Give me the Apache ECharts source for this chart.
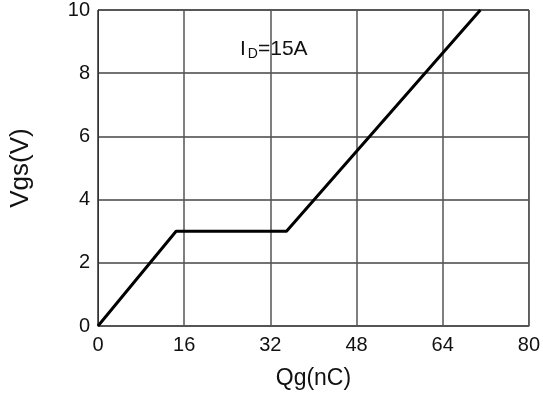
<!DOCTYPE html>
<html>
<head>
<meta charset="utf-8">
<script src="https://cdn.jsdelivr.net/npm/echarts@6/dist/echarts.min.js"></script>
<style>html,body{margin:0;padding:0;background:#fff;}#c{width:543px;height:397px;}</style>
</head>
<body>
<div id="c"></div>
<script>
const qg = [0, 14.5, 35, 71];
const vgs = [0, 3, 3, 10];
const xTicks = [0, 16, 32, 48, 64, 80];
const yTicks = [0, 2, 4, 6, 8, 10];

const chart = echarts.init(document.getElementById('c'));
const font = 'Arial, "Liberation Sans", Helvetica, sans-serif';
chart.setOption({
  animation: false,
  backgroundColor: '#fff',
  grid: { left: 98, top: 9, width: 433, height: 317, show: true, borderColor: '#222', borderWidth: 1 },
  title: {
    text: 'I{sub|D}=15A',
    left: 235, top: 32,
    textStyle: {
      fontFamily: font, fontSize: 21, fontWeight: 'normal', color: '#111', lineHeight: 24,
      rich: { sub: { fontFamily: font, fontSize: 14, lineHeight: 17, verticalAlign: 'bottom', color: '#111', padding: [0, 0, 0, 2] } }
    }
  },
  xAxis: {
    type: 'value', min: xTicks[0], max: xTicks[xTicks.length - 1], interval: 16,
    name: 'Qg(nC)', nameLocation: 'middle', nameGap: 41,
    nameTextStyle: { fontFamily: font, fontSize: 23, color: '#111' },
    axisLine: { show: true, lineStyle: { color: '#555', width: 1.5 } },
    axisTick: { show: false },
    axisLabel: { fontFamily: font, fontSize: 20, color: '#111', margin: 9 },
    splitLine: { show: true, lineStyle: { color: '#555', width: 1.5 } }
  },
  yAxis: {
    type: 'value', min: yTicks[0], max: yTicks[yTicks.length - 1], interval: 2,
    name: 'Vgs(V)', nameLocation: 'middle', nameGap: 64,
    nameTextStyle: { fontFamily: font, fontSize: 26, color: '#111' },
    axisLine: { show: true, lineStyle: { color: '#333', width: 1 } },
    axisTick: { show: false },
    axisLabel: { fontFamily: font, fontSize: 20, color: '#111', margin: 8 },
    splitLine: { show: true, lineStyle: { color: '#444', width: 1.5 } }
  },
  series: [{
    type: 'line',
    data: qg.map((x, i) => [x, vgs[i]]),
    symbol: 'none',
    lineStyle: { color: '#000', width: 3 },
    clip: true
  }]
});
</script>
</body>
</html>
